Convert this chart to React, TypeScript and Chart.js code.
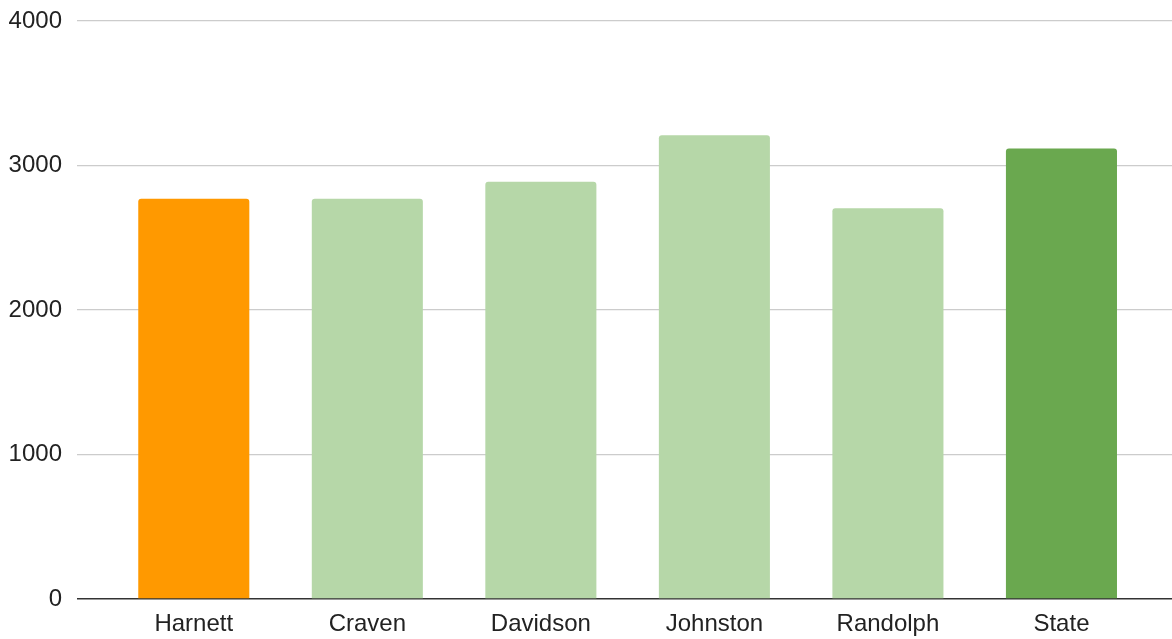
import React, { useEffect, useRef } from "react";
import { Chart, registerables } from "chart.js";

Chart.register(...registerables);

const categories = ["Harnett", "Craven", "Davidson", "Johnston", "Randolph", "State"];
const values = [2770, 2770, 2888, 3210, 2705, 3118];
const barColors = ["#ff9900", "#b6d7a8", "#b6d7a8", "#b6d7a8", "#b6d7a8", "#6aa84f"];
const yTicks = [0, 1000, 2000, 3000, 4000];

export default function App() {
  const ref = useRef<HTMLCanvasElement | null>(null);

  useEffect(() => {
    if (!ref.current) return;
    const chart = new Chart(ref.current, {
      type: "bar",
      data: {
        datasets: [
          {
            data: values.map((v, i) => ({ x: i, y: v })),
            backgroundColor: barColors,
            borderRadius: 3,
            borderSkipped: "start",
            barPercentage: 0.8,
            categoryPercentage: 0.8,
          },
        ],
      },
      options: {
        animation: false,
        responsive: false,
        maintainAspectRatio: false,
        layout: { padding: { left: 8, top: 21, right: 0, bottom: 0 } },
        plugins: { legend: { display: false }, tooltip: { enabled: false } },
        scales: {
          x: {
            type: "linear",
            offset: false,
            min: -0.673,
            max: 5.637,
            grid: { display: false, offset: false, drawTicks: false },
            border: { display: false },
            afterBuildTicks: (axis: any) => {
              axis.ticks = categories.map((_, i) => ({ value: i }));
            },
            afterFit: (axis: any) => {
              axis.paddingLeft = 0;
              axis.paddingRight = 0;
              axis.height = 40;
            },
            ticks: {
              autoSkip: false,
              maxRotation: 0,
              padding: 11,
              color: "#222",
              font: { family: "'Liberation Sans', Arial, sans-serif", size: 24 },
              callback: (v: any) => categories[Number(v)] ?? "",
            },
          },
          y: {
            min: 0,
            max: 4000,
            afterBuildTicks: (axis: any) => {
              axis.ticks = yTicks.map((v) => ({ value: v }));
            },
            afterFit: (axis: any) => {
              axis.width = 69;
              axis.paddingTop = 0;
              axis.paddingBottom = 0;
            },
            border: { display: false },
            grid: {
              drawTicks: false,
              color: (ctx: any) => (ctx.tick && ctx.tick.value === 0 ? "#333" : "#cccccc"),
              lineWidth: (ctx: any) => (ctx.tick && ctx.tick.value === 0 ? 1.5 : 1.3),
            },
            ticks: {
              padding: 15,
              color: "#222",
              font: { family: "'Liberation Sans', Arial, sans-serif", size: 24 },
              callback: (v: any) => String(v),
            },
          },
        },
      },
    });
    return () => chart.destroy();
  }, []);

  return (
    <div style={{ position: "fixed", left: 0, top: 0, width: 1172, height: 639, background: "#fff" }}>
      <canvas ref={ref} width={1172} height={639} />
    </div>
  );
}
